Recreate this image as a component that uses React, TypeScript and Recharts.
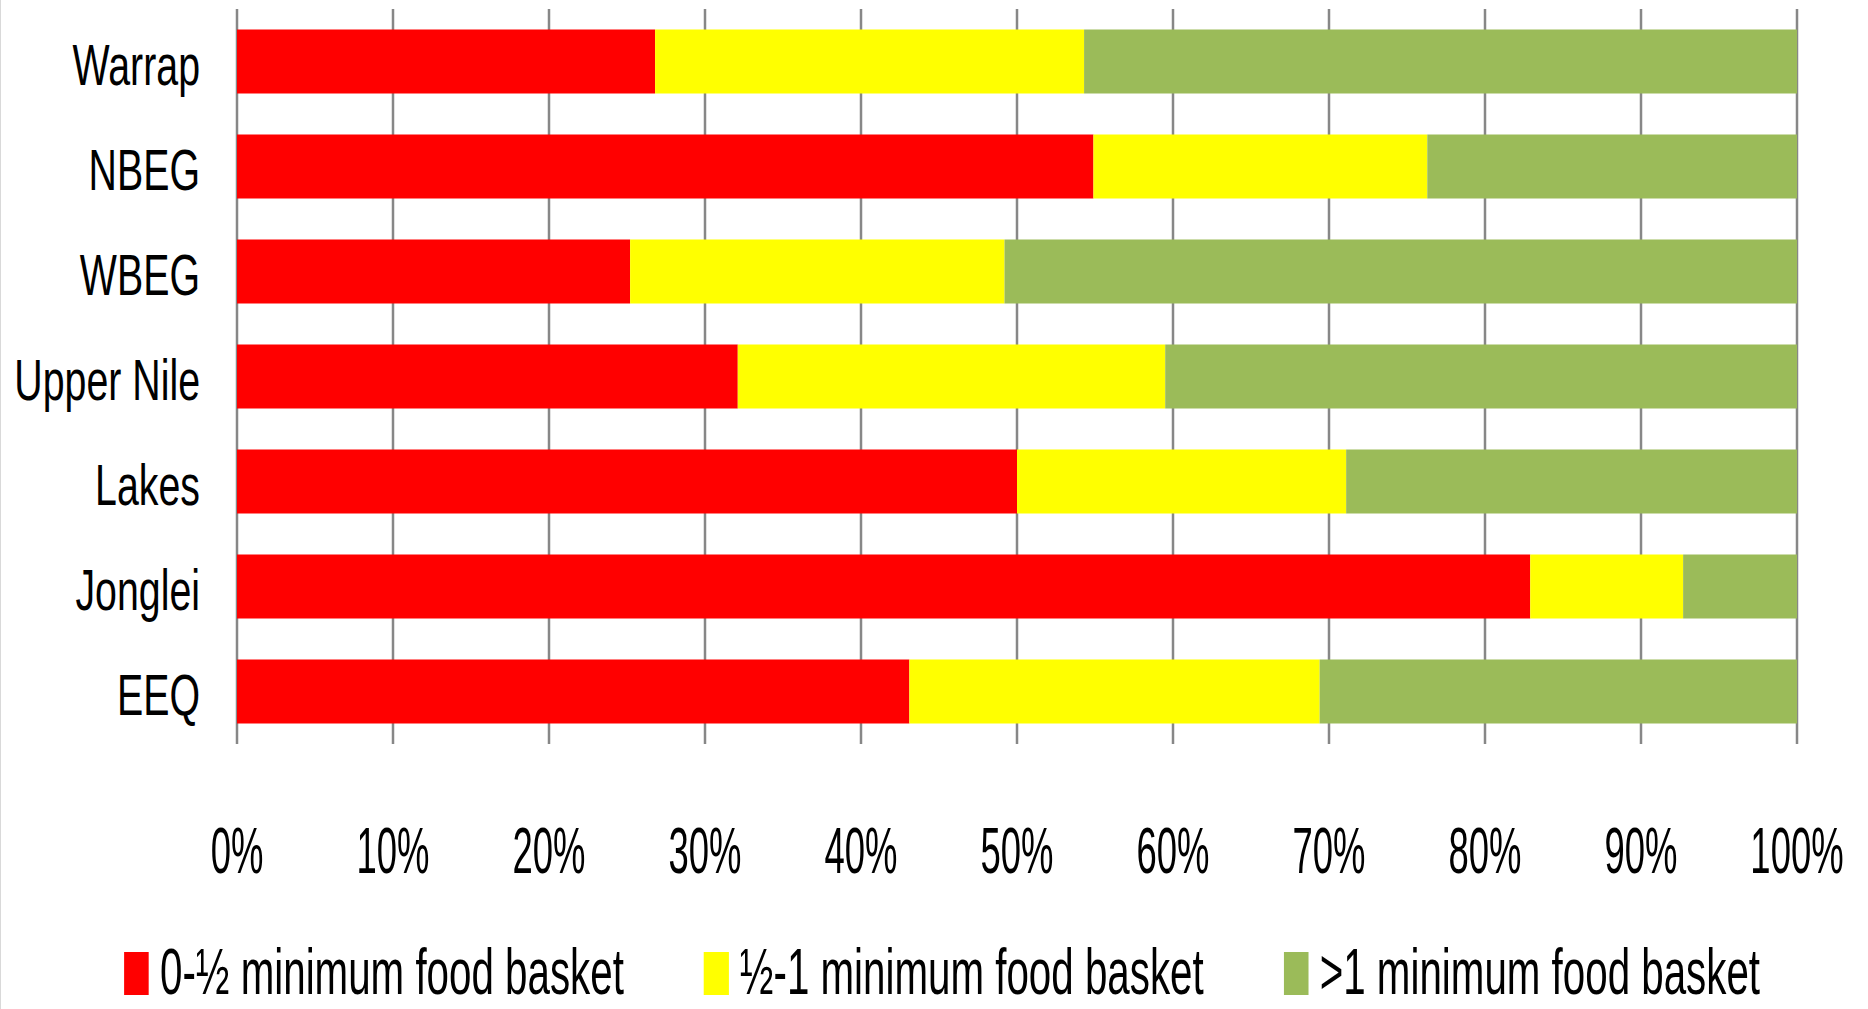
import React from 'react';
import { BarChart, Bar, XAxis, YAxis, CartesianGrid, Legend } from 'recharts';

const regions = ['Warrap', 'NBEG', 'WBEG', 'Upper Nile', 'Lakes', 'Jonglei', 'EEQ'];
const lowShare = [26.8, 54.9, 25.2, 32.1, 50.0, 82.9, 43.1];
const midShare = [27.5, 21.4, 24.0, 27.4, 21.1, 9.8, 26.3];
const highShare = [45.7, 23.7, 50.8, 40.5, 28.9, 7.3, 30.6];
const percentTicks = [0, 10, 20, 30, 40, 50, 60, 70, 80, 90, 100];
const seriesKeys = ['low', 'mid', 'high'];
const seriesNames = ['0-½ minimum food basket', '½-1 minimum food basket', '>1 minimum food basket'];
const seriesColors = ['#FF0000', '#FFFF00', '#9BBB59'];

const data = regions.map((region, i) => ({
  region,
  low: lowShare[i],
  mid: midShare[i],
  high: highShare[i],
}));

const FONT = '"Liberation Sans", Arial, sans-serif';
const W = 1868;
const H = 1009;

const XTick = (props: any) => {
  const { x, y, payload } = props;
  return (
    <text
      transform={`translate(${x},${y + 129}) scale(0.57,1)`}
      textAnchor="middle"
      fontFamily={FONT}
      fontSize={64}
      fill="#000"
    >
      {`${payload.value}%`}
    </text>
  );
};

const YTick = (props: any) => {
  const { x, y, payload } = props;
  return (
    <text
      transform={`translate(${x - 37},${y + 23}) scale(0.69,1)`}
      textAnchor="end"
      fontFamily={FONT}
      fontSize={57}
      fill="#000"
    >
      {payload.value}
    </text>
  );
};

const LegendContent = (props: any) => {
  const payload = [...(props.payload || [])].sort(
    (a: any, b: any) => seriesNames.indexOf(a.value) - seriesNames.indexOf(b.value)
  );
  const s = 0.63;
  return (
    <div
      style={{
        transform: `scaleX(${s})`,
        transformOrigin: '0 0',
        width: W / s,
        display: 'flex',
        alignItems: 'flex-start',
        paddingLeft: 124 / s,
        boxSizing: 'border-box',
      }}
    >
      {payload.map((entry: any, i: number) => (
        <div
          key={i}
          style={{
            display: 'flex',
            alignItems: 'flex-start',
            marginRight: i < payload.length - 1 ? 80 / s : 0,
          }}
        >
          <div
            style={{
              width: 25 / s,
              height: 43,
              marginTop: 12,
              background: entry.color,
              marginRight: 11 / s,
            }}
          />
          <span
            style={{
              fontFamily: FONT,
              fontSize: 64,
              lineHeight: '64px',
              color: '#000',
              whiteSpace: 'nowrap',
            }}
          >
            {entry.value}
          </span>
        </div>
      ))}
    </div>
  );
};

export default function App() {
  return (
    <div style={{ position: 'absolute', left: 0, top: 0, width: W, height: H, background: '#fff', overflow: 'hidden' }}>
      <BarChart
        width={W}
        height={H}
        data={data}
        layout="vertical"
        margin={{ top: 9, right: 71, bottom: 0, left: 0 }}
        barCategoryGap="19.5%"
      >
        <CartesianGrid horizontal={false} vertical={true} stroke="#878787" strokeWidth={2.5} />
        <XAxis
          type="number"
          domain={[0, 100]}
          ticks={percentTicks}
          interval={0}
          axisLine={false}
          tickLine={false}
          tickSize={0}
          tickMargin={0}
          height={265}
          tick={<XTick />}
        />
        <YAxis
          type="category"
          dataKey="region"
          width={237}
          axisLine={false}
          tickLine={false}
          tickSize={0}
          tickMargin={0}
          interval={0}
          tick={<YTick />}
        />
        <Legend
          verticalAlign="middle"
          align="center"
          layout="horizontal"
          wrapperStyle={{ left: 0, top: 940, width: W, height: 60 }}
          content={<LegendContent />}
        />
        {seriesKeys.map((k, i) => (
          <Bar
            key={k}
            dataKey={k}
            name={seriesNames[i]}
            stackId="a"
            fill={seriesColors[i]}
            isAnimationActive={false}
          />
        ))}
      </BarChart>
      <div style={{ position: 'absolute', left: 0, top: 0, width: 1, height: H, background: '#d9d9d9' }} />
    </div>
  );
}
